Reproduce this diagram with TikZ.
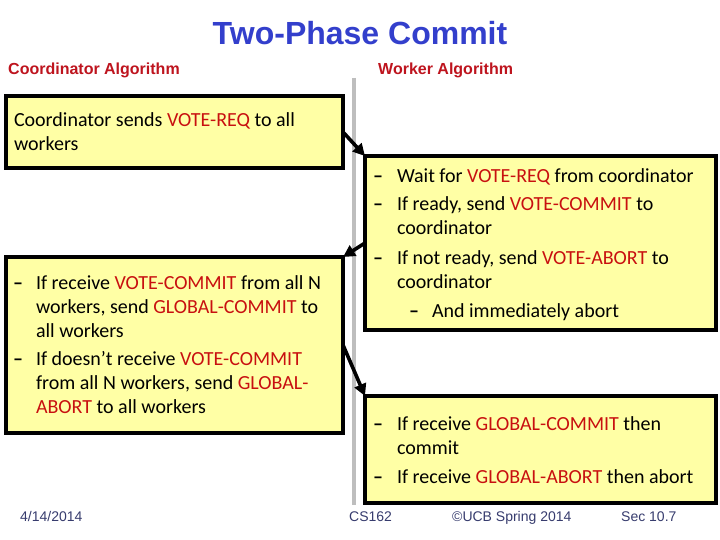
\documentclass[tikz,border=0pt]{standalone}
\usepackage{fontspec}
\setmainfont{Carlito}
\newfontfamily\arialf{Liberation Sans}
\usetikzlibrary{arrows.meta}
\definecolor{boxyellow}{RGB}{255,255,165}
\definecolor{kwred}{RGB}{200,16,16}
\definecolor{headred}{RGB}{190,20,30}
\definecolor{titleblue}{RGB}{51,63,204}
\definecolor{footblue}{RGB}{55,60,110}
\definecolor{sepgray}{RGB}{190,190,190}
\newcommand{\kw}[1]{\textcolor{kwred}{#1}}
\newcommand{\dsh}{\textbf{–}}
\begin{document}
\begin{tikzpicture}[x=1pt,y=-1pt,
  box/.style={draw=black,line width=3.2pt,fill=boxyellow,outer sep=0pt,inner sep=0pt,anchor=north west},
  body/.style={anchor=base west,inner sep=0pt,outer sep=0pt,font=\fontsize{20}{24}\selectfont},
  arr/.style={line width=3.6pt,-{Triangle[length=12pt,width=12pt]}},
  head/.style={anchor=base west,inner sep=0pt,font=\arialf\bfseries\fontsize{16}{19}\selectfont,text=headred},
  foot/.style={anchor=base west,inner sep=0pt,font=\arialf\fontsize{14}{17}\selectfont,text=footblue}]
\useasboundingbox (0,0) rectangle (720,540);
\fill[white] (0,0) rectangle (720,540);
% separator
\draw[sepgray,line width=4pt] (354,78) coordinate (sepTop) -- (354,505) coordinate (sepBot);
% title and headers
\node[anchor=base,inner sep=0pt,font=\arialf\bfseries\fontsize{32}{36}\selectfont,text=titleblue] (title) at (360,45) {Two-Phase Commit};
\node[head] (hc) at (8,75) {Coordinator Algorithm};
\node[head] (hw) at (378,75) {Worker Algorithm};
% boxes
\node[box,minimum width=337pt,minimum height=72pt] (b1) at (6,96) {};
\node[box,minimum width=351pt,minimum height=174pt] (b2) at (365,156) {};
\node[box,minimum width=337pt,minimum height=176pt] (b3) at (6,257) {};
\node[box,minimum width=351pt,minimum height=107pt] (b4) at (365,396) {};
% box 1 text
\node[body] (t1) at (14,127) {\begin{tabular}[t]{@{}l@{}}Coordinator sends \kw{VOTE-REQ} to all\\workers\end{tabular}};
% box 2 text
\node[body] (t2a) at (373,183) {\begin{tabular}[t]{@{}p{24pt}@{}l@{}}\dsh&Wait for \kw{VOTE-REQ} from coordinator\end{tabular}};
\node[body] (t2b) at (373,211) {\begin{tabular}[t]{@{}p{24pt}@{}l@{}}\dsh&If ready, send \kw{VOTE-COMMIT} to\\&coordinator\end{tabular}};
\node[body] (t2c) at (373,264) {\begin{tabular}[t]{@{}p{24pt}@{}l@{}}\dsh&If not ready, send \kw{VOTE-ABORT} to\\&coordinator\end{tabular}};
\node[body] (t2d) at (409,317) {\begin{tabular}[t]{@{}p{23pt}@{}l@{}}\dsh&And immediately abort\end{tabular}};
% box 3 text
\node[body] (t3a) at (13,289) {\begin{tabular}[t]{@{}p{23pt}@{}l@{}}\dsh&If receive \kw{VOTE-COMMIT} from all N\\&workers, send \kw{GLOBAL-COMMIT} to\\&all workers\end{tabular}};
\node[body] (t3b) at (13,365) {\begin{tabular}[t]{@{}p{23pt}@{}l@{}}\dsh&If doesn’t receive \kw{VOTE-COMMIT}\\&from all N workers, send \kw{GLOBAL-}\\&\kw{ABORT} to all workers\end{tabular}};
% box 4 text
\node[body] (t4a) at (373,430) {\begin{tabular}[t]{@{}p{24pt}@{}l@{}}\dsh&If receive \kw{GLOBAL-COMMIT} then\\&commit\end{tabular}};
\node[body] (t4b) at (373,483) {\begin{tabular}[t]{@{}p{24pt}@{}l@{}}\dsh&If receive \kw{GLOBAL-ABORT} then abort\end{tabular}};
% arrows
\draw[arr] (b1.east) -- (b2.north west);
\draw[arr] (b2.west) -- (b3.north east);
\draw[arr] (b3.east) -- (b4.north west);
% footer
\node[foot] (f1) at (20,521) {4/14/2014};
\node[foot] (f2) at (349,521) {CS162};
\node[foot] (f3) at (452,521) {©UCB Spring 2014};
\node[foot] (f4) at (621,521) {Sec 10.7};
\end{tikzpicture}
\end{document}
